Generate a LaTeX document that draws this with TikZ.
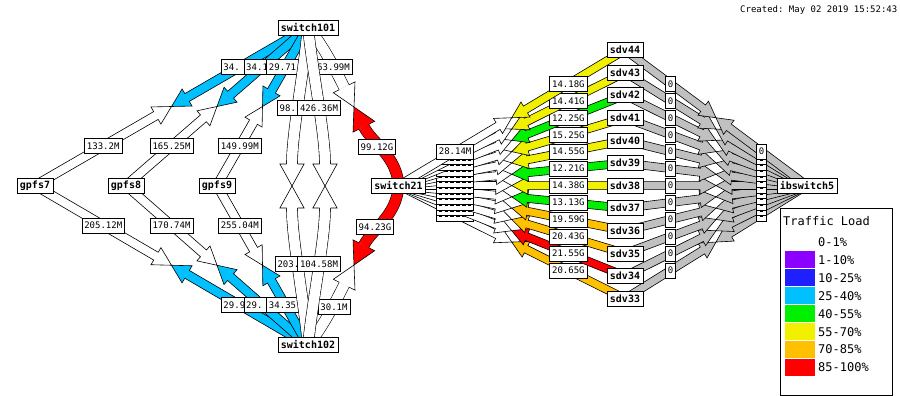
\documentclass[tikz,border=0pt]{standalone}
\usepackage{fontspec}
\setmonofont{DejaVu Sans Mono}
\usetikzlibrary{calc}
\pgfdeclarelayer{bg}
\pgfsetlayers{bg,main}
\definecolor{cblue}{RGB}{0,192,255}
\definecolor{cgreen}{RGB}{0,240,0}
\definecolor{cyellow}{RGB}{240,240,0}
\definecolor{corange}{RGB}{255,192,0}
\definecolor{cred}{RGB}{255,0,0}
\definecolor{cpurple}{RGB}{140,0,255}
\definecolor{cdblue}{RGB}{32,32,255}
\definecolor{cgray}{RGB}{192,192,192}
\tikzset{
 nd/.style={draw=black,fill=white,line width=0.6pt,font=\ttfamily\bfseries\fontsize{10}{12}\selectfont,inner xsep=3pt,inner ysep=0pt,minimum height=15pt},
 lb/.style={draw=black,fill=white,line width=0.6pt,font=\ttfamily\fontsize{9}{11}\selectfont,inner xsep=2.4pt,inner ysep=0pt,minimum height=15pt},
 arw/.style={draw=black,line width=0.6pt,line join=miter},
 lgt/.style={font=\ttfamily\fontsize{12}{14}\selectfont,anchor=west,inner sep=0pt},
}
\newcommand\hidlab{\makebox[32.5pt][s]{\rule{3.6pt}{0.9pt}\hfill\rule{3.6pt}{0.9pt}\hfill\rule{3.6pt}{0.9pt}\hfill\rule{3.6pt}{0.9pt}\hfill\rule{3.6pt}{0.9pt}\hfill\rule{3.6pt}{0.9pt}}\rule{0pt}{6.56pt}}
\newcommand\hidzero{\makebox[5.42pt]{\rule{2.6pt}{0.9pt}}\rule{0pt}{6.56pt}}
% straight half arrow: start, tip, colour, half width
\newcommand\sarr[4]{%
  \pgfmathsetmacro\awl{4*#4}%
  \pgfmathsetmacro\awh{2.2*#4}%
  \coordinate (hb) at ($(#2)!\awl pt!(#1)$);
  \filldraw[arw,fill=#3] ($(#1)!#4pt!90:(#2)$) -- ($(hb)!#4pt!90:(#2)$) -- ($(hb)!\awh pt!90:(#2)$) -- (#2) -- ($(hb)!\awh pt!-90:(#2)$) -- ($(hb)!#4pt!-90:(#2)$) -- ($(#1)!#4pt!-90:(#2)$) -- cycle;
}
% straight link: A, B, colour A side, colour B side, half width, label A, label B, id
\newcommand\slink[8]{%
  \coordinate (mid) at ($(#1)!0.5!(#2)$);
  \sarr{#1}{mid}{#3}{#5}
  \sarr{#2}{mid}{#4}{#5}
  \node[lb] (#8a) at ($(#1)!0.25!(#2)$) {#6};
  \node[lb] (#8b) at ($(#1)!0.75!(#2)$) {#7};
}
% curved half arrow: start, c1, c2, tip, colour, half width
\newcommand\carr[6]{%
  \pgfmathsetmacro\awl{4*#6}%
  \pgfmathsetmacro\awh{2.2*#6}%
  \pgfmathsetmacro\adist{2*#6-0.6}%
  \coordinate (hb) at ($(#4)!\awl pt!(#3)$);
  \draw[line width=0.6pt,double=#5,double distance=\adist pt] (#1) .. controls (#2) and (#3) .. (hb);
  \fill[#5] ($(hb)!#6pt!90:(#4)$) -- ($(hb)!\awh pt!90:(#4)$) -- (#4) -- ($(hb)!\awh pt!-90:(#4)$) -- ($(hb)!#6pt!-90:(#4)$) -- cycle;
  \draw[arw] ($(hb)!#6pt!90:(#4)$) -- ($(hb)!\awh pt!90:(#4)$) -- (#4) -- ($(hb)!\awh pt!-90:(#4)$) -- ($(hb)!#6pt!-90:(#4)$);
}
\begin{document}
\begin{tikzpicture}[x=1pt,y=-1pt]
\useasboundingbox (0,0) rectangle (900,396);
% nodes
\node[nd] (switch101) at (308,27.5) {switch101};
\node[nd] (switch102) at (308,345) {switch102};
\node[nd] (gpfs7) at (35,185.5) {gpfs7};
\node[nd] (gpfs8) at (126,185.5) {gpfs8};
\node[nd] (gpfs9) at (217,185.5) {gpfs9};
\node[nd] (switch21) at (398.5,185.5) {switch21};
\node[nd] (ibswitch5) at (807,185.5) {ibswitch5};
\foreach \n [count=\i from 0] in {44,43,...,33}
  \node[nd] (sdv\n) at (625,{50+22.6*\i}) {sdv\n};
% links
\begin{pgfonlayer}{bg}
\fill[white] (0,0) rectangle (900,396);
\slink{gpfs7.center}{switch101.center}{white}{cblue}{4.5}{133.2M}{34.\phantom{13G}}{lA}
\slink{gpfs8.center}{switch101.center}{white}{cblue}{4.5}{165.25M}{34.1\phantom{6G}}{lB}
\slink{gpfs9.center}{switch101.center}{white}{cblue}{4.5}{149.99M}{29.71\phantom{G}}{lC}
\slink{gpfs7.center}{switch102.center}{white}{cblue}{4.5}{205.12M}{29.9\phantom{2G}}{lD}
\slink{gpfs8.center}{switch102.center}{white}{cblue}{4.5}{170.74M}{29.\phantom{96G}}{lE}
\slink{gpfs9.center}{switch102.center}{white}{cblue}{4.5}{255.04M}{34.35\phantom{G}}{lF}
% switch101 - switch21
\carr{switch101.center}{323,45}{336,71}{354,107}{white}{5.5}
\carr{switch21.center}{397,156}{372,143}{354,107}{cred}{5.5}
\node[lb] (lGa) at (333.5,67) {63.99M};
\node[lb] (lGb) at (377,147) {99.12G};
% switch102 - switch21
\carr{switch102.center}{323,327}{336,301}{354,265}{white}{5.5}
\carr{switch21.center}{397,216}{372,229}{354,265}{cred}{5.5}
\node[lb] (lHa) at (334,307) {30.1M};
\node[lb] (lHb) at (375,227) {94.23G};
% switch101 - switch102 (two links)
\carr{switch101.center}{302.7,80}{292,133}{292,186}{white}{5.5}
\carr{switch102.center}{302.7,292}{292,239}{292,186}{white}{5.5}
\node[lb] (lIa) at (296,108) {98.\phantom{54M}};
\node[lb] (lIb) at (296.5,264) {203.\phantom{39M}};
\carr{switch101.center}{313.7,80}{325,133}{325,186}{white}{5.5}
\carr{switch102.center}{313.7,292}{325,239}{325,186}{white}{5.5}
\node[lb] (lJa) at (319,108) {426.36M};
\node[lb] (lJb) at (319,264) {104.58M};
% switch21 - sdv
\foreach \n/\c/\v in {33/corange/20.65G,34/cred/21.55G,35/corange/20.43G,36/corange/19.59G,37/cgreen/13.13G,38/cyellow/14.38G,39/cgreen/12.21G,40/cyellow/14.55G,41/cyellow/15.25G,42/cgreen/12.25G,43/cyellow/14.41G}{
  \slink{switch21.center}{sdv\n.center}{white}{\c}{4}{\hidlab}{\v}{ls\n}
}
\slink{switch21.center}{sdv44.center}{white}{cyellow}{4}{28.14M}{14.18G}{ls44}
% sdv - ibswitch5
\foreach \n in {33,...,43}{
  \slink{sdv\n.center}{ibswitch5.center}{cgray}{cgray}{4}{0}{\hidzero}{li\n}
}
\slink{sdv44.center}{ibswitch5.center}{cgray}{cgray}{4}{0}{0}{li44}
\end{pgfonlayer}
% title
\node[anchor=west,inner sep=0pt,font=\ttfamily\fontsize{9}{11}\selectfont] (created) at (740,10) {Created: May 02 2019 15:52:43};
% legend
\draw[line width=0.6pt,fill=white] (780,208) rectangle (892,395.5);
\node[lgt] (lgtitle) at (783,221) {Traffic Load};
\foreach \t/\c [count=\i from 0] in {0-1\%/white,1-10\%/cpurple,10-25\%/cdblue,25-40\%/cblue,40-55\%/cgreen,55-70\%/cyellow,70-85\%/corange,85-100\%/cred}{
  \pgfmathsetmacro\yy{242+17.93*\i}
  \fill[\c] (785,\yy-8.5) rectangle (815,\yy+8.5);
  \node[lgt] (lg\i) at (818,\yy) {\t};
}
\end{tikzpicture}
\end{document}
